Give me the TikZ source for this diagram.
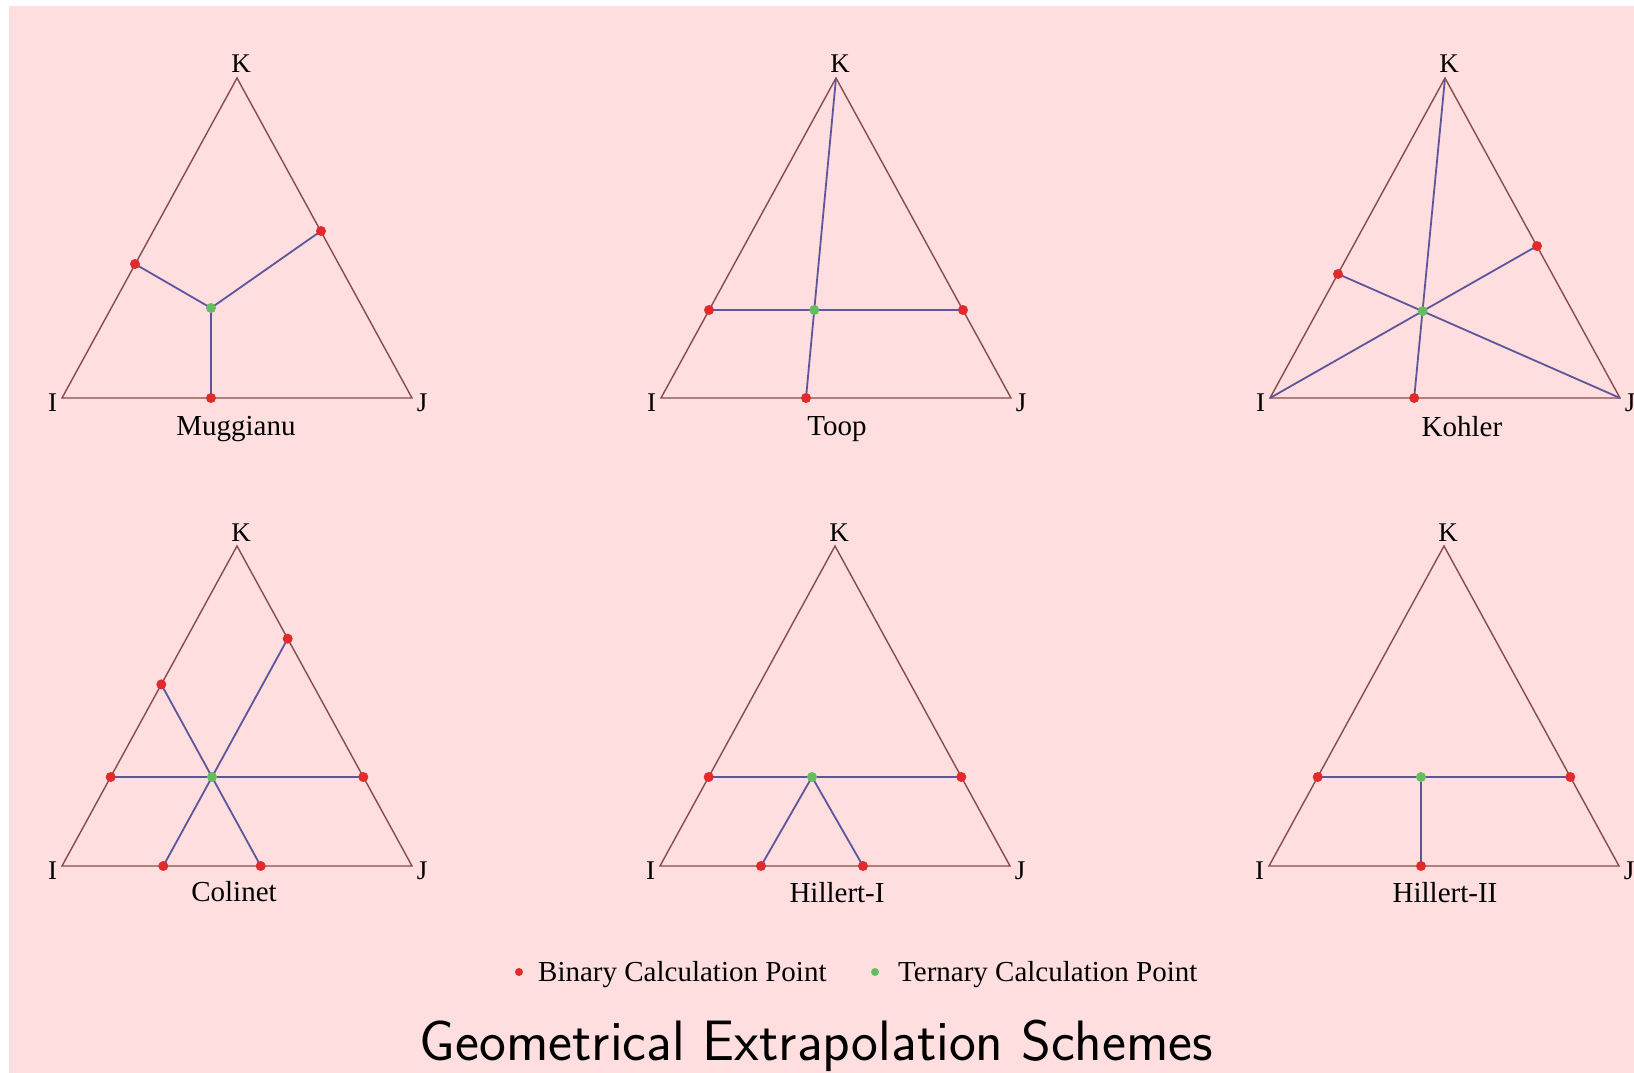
\documentclass[tikz,border=0pt]{standalone}
\usepackage{fontspec}
\setmainfont{Liberation Serif}
\definecolor{bgpink}{RGB}{255,222,223}
\definecolor{edgecol}{RGB}{135,75,75}
\definecolor{innercol}{RGB}{95,85,155}
\definecolor{bred}{RGB}{226,42,42}
\definecolor{tgreen}{RGB}{100,190,95}
\tikzset{
  edgeline/.style={draw=edgecol, line width=1.4pt, line join=miter},
  innerline/.style={draw=innercol, line width=1.8pt},
  bdot/.style={circle, fill=bred, inner sep=0pt, minimum size=10pt},
  tdot/.style={circle, fill=tgreen, inner sep=0pt, minimum size=10pt},
  ldot/.style={circle, inner sep=0pt, minimum size=8pt},
  vlabel/.style={font=\fontsize{27}{30}\selectfont, inner sep=0pt, anchor=base},
  slabel/.style={font=\fontsize{29}{32}\selectfont, inner sep=0pt, anchor=base},
  legtext/.style={font=\fontsize{29}{34}\selectfont, inner sep=0pt, anchor=base west},
}
% #1 prefix, #2 label, #3 label x offset, #4 label baseline offset
\newcommand{\maketri}[4]{%
  \coordinate (#1I) at (0,0);
  \coordinate (#1J) at (350,0);
  \coordinate (#1K) at (175,-320);
  \draw[edgeline] (#1I) -- (#1J) -- (#1K) -- cycle;
  \node[vlabel] (#1lK) at (179,-325) {K};
  \node[vlabel] (#1lI) at (-9.5,13) {I};
  \node[vlabel] (#1lJ) at (360,13) {J};
  \node[slabel] (#1name) at (#3,#4) {#2};
}
\begin{document}
\begin{tikzpicture}[x=1pt,y=-1pt]
\useasboundingbox (0,0) rectangle (1634,1073);
\fill[white] (0,0) rectangle (1634,1073);
\fill[bgpink] (9,6) rectangle (1634,1073);

% ---------------- Muggianu ----------------
\begin{scope}[shift={(62,398)}]
  \maketri{m}{Muggianu}{174}{37}
  \coordinate (mL) at (73,-134);
  \coordinate (mR) at (259,-167);
  \coordinate (mG) at (149,-90);
  \coordinate (mB) at (149,0);
  \draw[innerline] (mG) -- (mL);
  \draw[innerline] (mG) -- (mR);
  \draw[innerline] (mG) -- (mB);
  \node[bdot] (mLd) at (mL) {};
  \node[bdot] (mRd) at (mR) {};
  \node[bdot] (mBd) at (mB) {};
  \node[tdot] (mGd) at (mG) {};
\end{scope}

% ---------------- Toop ----------------
\begin{scope}[shift={(661,398)}]
  \maketri{t}{Toop}{176}{37}
  \coordinate (tL) at (48,-88);
  \coordinate (tR) at (302,-88);
  \coordinate (tB) at (145,0);
  \coordinate (tG) at (intersection of tK--tB and tL--tR);
  \draw[innerline] (tL) -- (tR);
  \draw[innerline] (tK) -- (tB);
  \node[bdot] (tLd) at (tL) {};
  \node[bdot] (tRd) at (tR) {};
  \node[bdot] (tBd) at (tB) {};
  \node[tdot] (tGd) at (tG) {};
\end{scope}

% ---------------- Kohler ----------------
\begin{scope}[shift={(1270,398)}]
  \maketri{k}{Kohler}{192}{38}
  \coordinate (kL) at (68,-124);
  \coordinate (kR) at (267,-152);
  \coordinate (kG) at (intersection of kI--kR and kJ--kL);
  \coordinate (kB) at (intersection of kK--kG and kI--kJ);
  \draw[innerline] (kI) -- (kR);
  \draw[innerline] (kJ) -- (kL);
  \draw[innerline] (kK) -- (kB);
  \node[bdot] (kLd) at (kL) {};
  \node[bdot] (kRd) at (kR) {};
  \node[bdot] (kBd) at (kB) {};
  \node[tdot] (kGd) at (kG) {};
\end{scope}

% ---------------- Colinet ----------------
\begin{scope}[shift={(62,866)}]
  \maketri{c}{Colinet}{172}{35}
  \coordinate (cG) at (150,-89);
  \coordinate (cL) at (48.7,-89);
  \coordinate (cR) at (301.3,-89);
  \coordinate (cUL) at (99.3,-181.6);
  \coordinate (cBR) at (198.7,0);
  \coordinate (cUR) at (225.7,-227.3);
  \coordinate (cBL) at (101.3,0);
  \draw[innerline] (cL) -- (cR);
  \draw[innerline] (cUL) -- (cBR);
  \draw[innerline] (cUR) -- (cBL);
  \node[bdot] (cLd) at (cL) {};
  \node[bdot] (cRd) at (cR) {};
  \node[bdot] (cULd) at (cUL) {};
  \node[bdot] (cURd) at (cUR) {};
  \node[bdot] (cBLd) at (cBL) {};
  \node[bdot] (cBRd) at (cBR) {};
  \node[tdot] (cGd) at (cG) {};
\end{scope}

% ---------------- Hillert-I ----------------
\begin{scope}[shift={(660,866)}]
  \maketri{h}{Hillert-I}{177}{36}
  \coordinate (hL) at (48.7,-89);
  \coordinate (hR) at (301.3,-89);
  \coordinate (hG) at (152,-89);
  \coordinate (hBL) at (101,0);
  \coordinate (hBR) at (203,0);
  \draw[innerline] (hL) -- (hR);
  \draw[innerline] (hBL) -- (hG) -- (hBR);
  \node[bdot] (hLd) at (hL) {};
  \node[bdot] (hRd) at (hR) {};
  \node[bdot] (hBLd) at (hBL) {};
  \node[bdot] (hBRd) at (hBR) {};
  \node[tdot] (hGd) at (hG) {};
\end{scope}

% ---------------- Hillert-II ----------------
\begin{scope}[shift={(1269,866)}]
  \maketri{q}{Hillert-II}{176}{36}
  \coordinate (qL) at (48.7,-89);
  \coordinate (qR) at (301.3,-89);
  \coordinate (qG) at (152,-89);
  \coordinate (qB) at (152,0);
  \draw[innerline] (qL) -- (qR);
  \draw[innerline] (qG) -- (qB);
  \node[bdot] (qLd) at (qL) {};
  \node[bdot] (qRd) at (qR) {};
  \node[bdot] (qBd) at (qB) {};
  \node[tdot] (qGd) at (qG) {};
\end{scope}

% ---------------- Legend ----------------
\node[ldot, fill=bred] (legB) at (519,972) {};
\node[legtext] (legBt) at (538,981) {Binary Calculation Point};
\node[ldot, fill=tgreen] (legT) at (875,972) {};
\node[legtext] (legTt) at (898,981) {Ternary Calculation Point};

% ---------------- Title ----------------
\node[font=\sffamily\fontsize{57}{64}\selectfont, inner sep=0pt, anchor=base] (title) at (816.5,1060) {Geometrical Extrapolation Schemes};
\end{tikzpicture}
\end{document}
